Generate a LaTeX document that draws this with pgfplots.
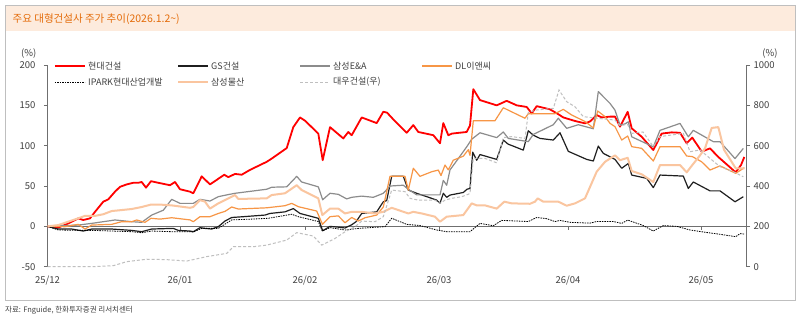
\documentclass[border=0pt]{standalone}
\usepackage{fontspec}
\setmainfont{Noto Sans CJK KR}
\usepackage{pgfplots}
\pgfplotsset{compat=1.18}
\definecolor{sRed}{HTML}{FF0000}
\definecolor{sBlack}{HTML}{1F1F1F}
\definecolor{sGray}{HTML}{8C8C8C}
\definecolor{sOrange}{HTML}{F79646}
\definecolor{sPeach}{HTML}{FAC59F}
\definecolor{sLgray}{HTML}{BFBFBF}
\definecolor{axgray}{HTML}{6F6F6F}
\definecolor{txtgray}{HTML}{404040}
\definecolor{titleor}{HTML}{E46C0A}
\definecolor{bandfill}{HTML}{FDEBDD}
\definecolor{framec}{HTML}{BFBFBF}
\tikzset{legtext/.style={anchor=west, inner sep=0pt, text=txtgray, font=\fontsize{9bp}{11bp}\selectfont}}
\begin{document}
\begin{tikzpicture}
\useasboundingbox (0,0) rectangle (800bp,-319bp);
\fill[white] (0,0) rectangle (800bp,-319bp);
\fill[bandfill] (5bp,-5bp) rectangle (795bp,-30.5bp);
\draw[framec, line width=0.8bp] (5bp,-5bp) rectangle (795bp,-300bp);
\node[anchor=west, text=titleor, font=\fontsize{10.5bp}{12bp}\selectfont, inner sep=0pt] at (12.5bp,-19bp) {주요 대형건설사 주가 추이(2026.1.2\textasciitilde)};
\node[anchor=west, text=txtgray, font=\fontsize{7.5bp}{9bp}\selectfont, inner sep=0pt] at (5bp,-310bp) {자료: Fnguide, 한화투자증권 리서치센터};
\begin{axis}[
  at={(47.5bp,-266.7bp)}, anchor=south west, scale only axis,
  width=699bp, height=201.7bp,
  xmin=47.5, xmax=746.5, ymin=-50, ymax=200, clip=false,
  axis x line*=middle, axis y line*=left,
  hide obscured x ticks=false, hide obscured y ticks=false,
  axis line style={axgray, line width=0.8bp},
  ytick={-50,0,50,100,150,200},
  xtick={47.5,180,305,439,568,701},
  xticklabels={25/12,26/01,26/02,26/03,26/04,26/05},
  tick align=outside, major tick length=3.5bp,
  tick style={axgray, line width=0.8bp},
  ticklabel style={font=\fontsize{9.5bp}{11bp}\selectfont, text=txtgray},
  /pgf/number format/assume math mode=true,
  /pgf/number format/1000 sep={},
  xticklabel style={yshift=-43bp},
  yticklabel style={xshift=-5bp},
  ylabel={(\%)},
  ylabel style={rotate=-90, at={(axis description cs:-0.027,1.055)}, anchor=center, font=\fontsize{9.5bp}{11bp}\selectfont, text=txtgray},
]
% 현대건설
\addplot[color=sRed, line width=1.8bp, line join=round] coordinates {
(47.5,0) (58.3,-1.5) (68.3,3.7) (78.3,9.9) (83.3,7.9) (90,9.9) (95,18) (103.3,30.6) (108.3,33.5) (115,43) (120,49) (126.7,52) (133.3,54) (138.3,54) (141.7,55) (146,48) (151,56) (158.3,54) (170,51) (175,55) (180,46) (190,43) (193.3,41) (201.7,62) (210,52) (224.3,64) (228.3,61) (235,65) (241.7,64) (250,70) (266.7,80) (271.7,84) (286.7,97) (293.3,123) (300,135) (305,131) (318.3,115) (322.7,82) (330,123) (343.3,109) (348.3,117) (351.7,113) (361.7,135) (376.7,128) (383.3,142) (387,141) (393.3,132.6) (406.7,116) (413.3,125.5) (418.3,117) (433.3,113) (440,103) (443.3,128) (448.3,113) (452,115) (466.7,117) (470,125) (473.3,170) (480,156.5) (496.7,150) (506.7,155.6) (516.7,150) (526.7,148) (531.7,140) (536.7,149) (550,145) (558.3,139) (563.3,135) (575,130.6) (585,127.7) (590,130) (596.7,138) (601.7,135) (610,136) (615,136) (620,123.6) (627.7,142) (631.7,121.5) (641.7,111) (653.3,94.6) (661.7,115) (671.7,116.5) (680,116) (686.7,103) (692.3,110) (701.7,92.6) (710,96.7) (718.3,86) (735.7,67) (741,76) (744.3,86)};
% GS건설
\addplot[color=sBlack, line width=1.2bp, line join=round] coordinates {
(47.5,0) (58.3,-3.3) (71.7,-3.3) (83.3,-5.8) (91.7,-3.3) (111.7,-3.3) (131.7,-5) (141.7,-6.6) (151.7,-3.3) (173.3,-2.5) (178.3,-5) (190,-5.8) (193.3,-6.6) (200,-1.6) (205,-2.5) (211.7,-3.3) (218.3,-0.4) (225,6.6) (231.7,11) (243.3,12) (265,14) (270,16) (285,18) (293.3,22) (300,16) (318.3,10) (322.7,-5.4) (330,0) (338.3,-1) (345,-2) (351.7,2) (356,5.7) (361.7,16) (376.7,18) (383.3,30.5) (386.7,32) (391.7,62) (403.3,62) (408.3,45) (416.7,41) (436.7,32.6) (440,28.5) (443.3,41) (446.7,36) (450,38.8) (463.3,42) (467,46) (470,47) (472.7,92) (476.7,82) (480,89) (496.7,83) (503.3,107) (508,102) (523.3,94.5) (528.3,118.5) (533.3,113) (540,109) (553.3,107) (560,116) (568.3,93) (586.7,83) (593.3,81) (598.3,99.5) (603.3,90.5) (615,83) (621.7,72) (628.3,78) (631.7,63.6) (646.7,59.5) (653.3,48) (660,63.6) (683.3,62.3) (688.3,47) (693.3,55) (710,44) (720,44) (735,30.5) (743.3,36.7)};
% 삼성E&A
\addplot[color=sGray, line width=1.2bp, line join=round] coordinates {
(47.5,0) (78.3,1.6) (91.7,3.7) (115,7.9) (131.7,5.8) (141.7,5) (151.7,14) (163.3,20) (171.7,33.5) (180,28.5) (193.3,28.5) (200,33.5) (210,31.4) (218.3,36.8) (226.7,39) (235,41) (266.7,46) (271.7,48.5) (286.7,49) (296.7,62) (301.7,55) (318.3,49) (322.7,33) (330,41) (338.3,39.7) (346.7,34) (351.7,36) (361.7,37.5) (373.3,36) (383.3,41) (390,50) (403.3,51) (408.3,46) (416.7,39) (440,39) (443.3,57) (446.7,51) (450,70) (458.3,84) (466.7,98.6) (471.7,108) (480,116) (496.7,110) (503.3,117) (508.3,109) (523.3,106) (528.3,105) (533.3,114) (541.7,119) (553.3,126) (558.3,134) (566.7,121.5) (578.3,126) (593.3,121) (598.3,167) (610,152.4) (615,144) (620,125.5) (625,127) (628.3,129.6) (631.7,111) (653.3,98.6) (660,119) (680,127.6) (688.3,111) (693.3,119) (713.3,105) (720,105) (735,84) (743.3,96.6)};
% DL이앤씨
\addplot[color=sOrange, line width=1.2bp, line join=round] coordinates {
(47.5,0) (65,-0.4) (78.3,2.5) (85,-3.3) (91.7,1.6) (111.7,2.5) (121.7,5.8) (131.7,5.8) (136.7,7.9) (145,5) (151,10) (160,9) (171.7,10.7) (190,8) (193.3,5.8) (200,12) (210,12) (218.3,16) (225,18.6) (231.7,24) (238.3,21.5) (266.7,23) (285,25.6) (291.7,28.5) (298.3,24.4) (316.7,19) (322.5,2.5) (330,12) (338.3,13) (345,4.5) (351.7,11) (358.3,6.6) (365,10.7) (376.7,14) (383.3,24) (390,62) (405,62) (408.3,45) (413.3,72) (420,62) (431.7,67.7) (438.3,69.8) (441,63) (445,76) (448.3,70) (453.3,82) (463.3,87) (468.3,95) (470,88) (473.3,131) (495,131) (503.3,147) (513.3,141) (525,134) (528.3,139.7) (536.7,139.7) (555,139.7) (563.3,145) (571.7,138) (585,130) (593.3,122) (597.7,143) (605,136) (610,127.7) (615,123.6) (621.7,107) (627.7,112) (631.7,98.8) (641.7,96.7) (653.3,81) (660,98.8) (680,98.8) (686.7,87.2) (692.3,86.5) (701.7,80) (710,69.8) (720,75) (735.7,65.7) (744.3,72.7)};
% IPARK
\addplot[color=black, line width=0.8bp, dash pattern=on 1.5bp off 1bp] coordinates {
(47.5,0) (58.3,-4.5) (80,-5) (93.3,-5) (111.7,-5.8) (131.7,-6.6) (141.7,-7.9) (151.7,-5.8) (171.7,-6.6) (190,-6.6) (193.3,-7) (201.7,-2.5) (218.3,-2.5) (231.7,8) (251.7,9) (268.3,10) (291.7,15) (298.3,12) (318.3,6) (322.3,-5.8) (330,-1.6) (345,-4.5) (358.3,-2.5) (385,-0.4) (391.7,10) (406.7,2.5) (420,1) (436.7,-4.5) (446.7,-6.6) (470,-6.6) (480,3.7) (493.3,0.8) (501.7,7.4) (528.3,6) (536.7,11) (546.7,9.5) (555,6) (560,7.4) (570,5) (590,4) (596.7,6) (613.3,6) (621.7,3.7) (627.7,7.8) (643.3,1) (653.3,-5.8) (663.3,1) (676.7,0) (690,-4.5) (706.7,-7.6) (718.3,-9.5) (735.7,-12.8) (740,-9) (744.3,-9.5)};
% 삼성물산
\addplot[color=sPeach, line width=2bp, line join=round] coordinates {
(47.5,0) (58.3,1.6) (68.3,5.8) (78.3,10) (85,13) (95,13) (103.3,15) (111.7,19) (120,20) (131.7,21.5) (141.7,24) (151,27) (160,27) (171.7,26) (190,23) (193.3,24) (200,32.6) (205,30.6) (210,22) (218.3,28.5) (235,38.8) (238.3,34) (266.7,34.7) (271.7,38.8) (285,41) (296.7,51) (301.7,45) (318.3,34.7) (322.3,14) (330,22) (338.3,22) (345,16) (351.7,18) (361.7,18) (375,16) (383.3,18) (391.7,23) (408.3,16) (413.3,18) (421.7,16) (435,12) (440,5.8) (446.7,12) (463.3,14) (471.7,28.5) (476.7,26) (485,26) (496.7,22) (504.3,30.6) (511.7,28.5) (530,28) (535,30.6) (537.7,34.7) (543.3,30.6) (558.3,30.6) (566.7,25.6) (575,28.5) (585,34.7) (596.7,67.8) (605,80) (615,88) (620,82) (627.7,85) (631.7,68.6) (641.7,64.5) (653.3,55) (660,76) (680,76) (686.7,67) (692.3,76) (700,88) (705,96.7) (711.7,122) (718.3,123) (724,95) (735.7,72) (744.3,72)};
% legend
\draw[color=sRed, line width=1.8bp] (axis description cs:0.01073,0.995) -- (axis description cs:0.05365,0.995);
\node[legtext] at (axis description cs:0.05794,0.995) {현대건설};
\draw[color=sBlack, line width=1.2bp] (axis description cs:0.18670,0.995) -- (axis description cs:0.22961,0.995);
\node[legtext] at (axis description cs:0.23391,0.995) {GS건설};
\draw[color=sGray, line width=1.2bp] (axis description cs:0.36123,0.995) -- (axis description cs:0.40415,0.995);
\node[legtext] at (axis description cs:0.40844,0.995) {삼성E\&A};
\draw[color=sOrange, line width=1.2bp] (axis description cs:0.53577,0.995) -- (axis description cs:0.57868,0.995);
\node[legtext] at (axis description cs:0.58298,0.995) {DL이앤씨};
\draw[color=black, line width=0.8bp, dash pattern=on 1.5bp off 1bp] (axis description cs:0.01073,0.9157) -- (axis description cs:0.05365,0.9157);
\node[legtext] at (axis description cs:0.05794,0.9157) {IPARK현대산업개발};
\draw[color=sPeach, line width=2bp] (axis description cs:0.18670,0.9157) -- (axis description cs:0.22961,0.9157);
\node[legtext] at (axis description cs:0.23391,0.9157) {삼성물산};
\draw[color=sLgray, line width=1bp, dash pattern=on 3bp off 2bp] (axis description cs:0.36123,0.9157) -- (axis description cs:0.40415,0.9157);
\node[legtext] at (axis description cs:0.40844,0.9157) {대우건설(우)};
\end{axis}
\begin{axis}[
  at={(47.5bp,-266.7bp)}, anchor=south west, scale only axis,
  width=699bp, height=201.7bp,
  xmin=47.5, xmax=746.5, ymin=0, ymax=1000, clip=false,
  axis y line*=right, axis x line=none, xtick=\empty,
  axis line style={axgray, line width=0.8bp},
  ytick={0,200,400,600,800,1000},
  tick align=outside, major tick length=3.5bp,
  tick style={axgray, line width=0.8bp},
  ticklabel style={font=\fontsize{9.5bp}{11bp}\selectfont, text=txtgray},
  /pgf/number format/assume math mode=true,
  /pgf/number format/1000 sep={},
  ylabel={(\%)},
  ylabel style={rotate=-90, at={(axis description cs:1.0336,1.055)}, anchor=center, font=\fontsize{9.5bp}{11bp}\selectfont, text=txtgray},
]
\addplot[color=sLgray, line width=1bp, dash pattern=on 3bp off 2bp] coordinates {
(47.5,0) (93.3,0) (113.3,5) (126.7,25) (146.7,37) (166.7,35) (186.7,28) (206.7,50) (226.7,66) (233.3,99) (253.3,99) (266.7,107) (286.7,132) (296.7,169) (313.3,152) (321.7,107) (335,140) (345,173) (355,198) (361.7,226) (375,223) (383.3,248) (391.7,380) (405,372) (410,339) (418.3,330) (435,330) (440,314) (445,330) (451.7,339) (461.7,347) (466.7,356) (470,363) (473.3,537) (485,537) (496.7,515) (503.3,640) (511.7,645) (525,636) (528.3,765) (536.7,777) (553.3,785) (559,876) (566.7,818) (575,793) (583.3,744) (596.7,736) (615,727) (620,700) (627.7,705) (631.7,661) (643,668) (653.3,595) (660,645) (683.3,661) (690,570) (700,579) (710,537) (720,496) (733.3,471) (743.3,446)};
\end{axis}
\end{tikzpicture}
\end{document}
